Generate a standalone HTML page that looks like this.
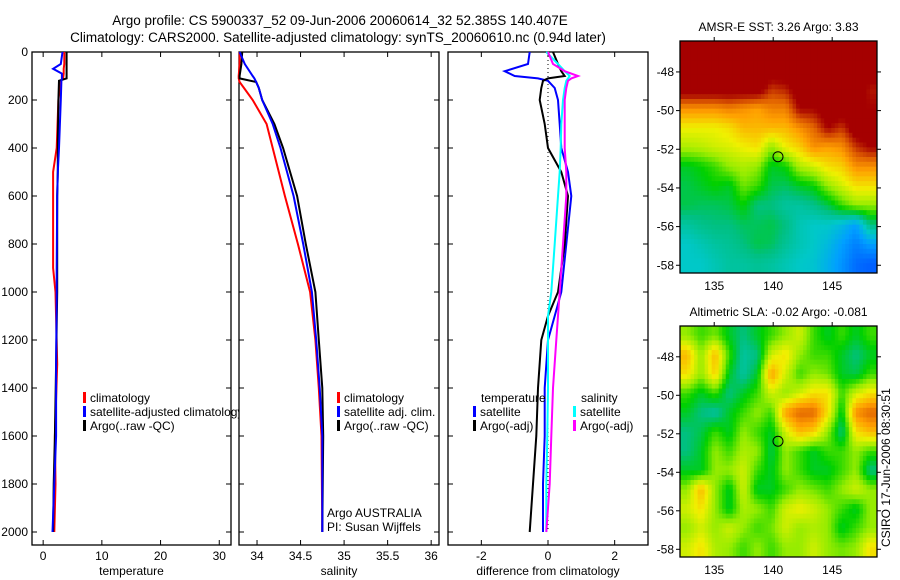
<!DOCTYPE html>
<html><head><meta charset="utf-8"><style>
body{margin:0;background:#fff}
svg{display:block;font-family:"Liberation Sans",sans-serif}
</style></head><body>
<svg id="s" width="900" height="580" viewBox="0 0 900 580" xmlns="http://www.w3.org/2000/svg">
<defs>
<clipPath id="c1"><rect x="680" y="41" width="197" height="232"/></clipPath>
<clipPath id="c2"><rect x="680" y="326" width="197" height="231"/></clipPath>
</defs>
<text x="340" y="25" text-anchor="middle" font-size="13.5">Argo profile: CS 5900337_52 09-Jun-2006 20060614_32 52.385S 140.407E</text>
<text x="338" y="42" text-anchor="middle" font-size="13.5">Climatology: CARS2000. Satellite-adjusted climatology: synTS_20060610.nc (0.94d later)</text>
<g id="g"></g>
</svg>
<script>
const tDepth=[0,50,70,90,110,120,200,400,500,600,900,1000,1300,1600,1800,2000];
const tClim=[3.6,3.6,3.5,3.5,3.4,3.0,2.6,2.3,1.7,1.7,1.7,2.1,2.4,2.0,2.1,1.9];
const tSat=[3.3,3.0,1.7,3.2,3.2,3.1,3.0,2.7,2.5,2.4,2.3,2.3,2.2,2.2,1.9,1.6];
const tArgo=[4.0,4.0,4.0,4.0,4.0,2.7,2.6,2.5,2.5,2.4,2.4,2.4,2.2,2.0,1.8,1.7];
const sDepth=[0,50,100,110,125,150,200,300,400,600,800,1000,1200,1400,1600,2000];
const sClim=[33.8,33.8,33.79,33.79,33.8,33.85,33.95,34.11,34.18,34.32,34.47,34.61,34.67,34.71,34.74,34.75];
const sSat=[33.8,33.86,33.95,33.97,33.99,34.02,34.06,34.18,34.27,34.42,34.53,34.63,34.68,34.72,34.75,34.75];
const sArgo=[33.83,33.82,33.8,33.8,33.99,34.02,34.06,34.2,34.3,34.46,34.56,34.67,34.71,34.75,34.76,34.75];
const dDepth=[0,50,80,100,110,120,150,200,300,400,500,600,800,1000,1100,1200,1400,1600,1800,2000];
const dTSat=[-0.55,-0.6,-1.3,-1.0,-0.3,0.0,0.2,0.3,0.35,0.4,0.6,0.7,0.55,0.4,0.2,0.0,-0.1,-0.1,-0.15,-0.15];
const dTArgo=[0.15,0.3,0.4,0.5,0.0,-0.15,-0.2,-0.25,-0.1,0.0,0.4,0.6,0.5,0.3,0.0,-0.2,-0.3,-0.35,-0.45,-0.55];
const dSSat=[-0.05,0.3,0.5,0.65,0.6,0.55,0.5,0.45,0.4,0.38,0.35,0.3,0.2,0.1,0.0,0.0,0.0,-0.02,-0.05,-0.05];
const dSArgo=[0.0,0.15,0.5,0.9,0.7,0.6,0.55,0.5,0.5,0.5,0.55,0.55,0.45,0.35,0.3,0.25,0.15,0.1,0.05,-0.05];
const depthTicks=[0,200,400,600,800,1000,1200,1400,1600,1800,2000];
const tTicks=[0,10,20,30];
const sTicks=[34,34.5,35,35.5,36];
const sTickLabels=["34","34.5","35","35.5","36"];
const dTicks=[-2,0,2];
const lonTicks=[135,140,145];
const latTicks=[-48,-50,-52,-54,-56,-58];
const sstGrid=[
[1,1,1,1,1,1,1,1,1,1,1,1,1,1],
[1,1,1,1,1,1,1,1,1,1,1,1,1,1],
[1,1,1,1,1,1,0.9,0.92,1,1,1,1,1,0.93],
[0.8,0.8,0.8,0.82,0.8,0.78,0.82,0.82,0.95,0.95,1,1,0.95,0.95],
[0.68,0.68,0.68,0.7,0.75,0.75,0.75,0.75,0.8,0.85,0.95,0.9,1,1],
[0.62,0.63,0.65,0.66,0.68,0.7,0.6,0.68,0.72,0.8,0.78,0.8,0.9,0.95],
[0.5,0.52,0.55,0.6,0.62,0.6,0.5,0.52,0.62,0.65,0.7,0.72,0.8,0.8],
[0.48,0.5,0.52,0.5,0.58,0.55,0.48,0.47,0.5,0.52,0.6,0.65,0.7,0.7],
[0.48,0.47,0.47,0.48,0.52,0.45,0.45,0.42,0.42,0.44,0.48,0.55,0.6,0.6],
[0.42,0.44,0.45,0.45,0.47,0.47,0.48,0.45,0.4,0.38,0.38,0.35,0.3,0.45],
[0.38,0.4,0.42,0.43,0.45,0.48,0.47,0.43,0.4,0.38,0.35,0.3,0.25,0.3],
[0.38,0.38,0.4,0.42,0.42,0.43,0.42,0.4,0.38,0.37,0.33,0.28,0.22,0.2]];
const slaGrid=[
[0.6,0.55,0.58,0.5,0.45,0.5,0.55,0.6,0.65,0.55,0.5,0.55,0.5,0.55],
[0.75,0.6,0.75,0.55,0.42,0.45,0.65,0.7,0.6,0.55,0.55,0.5,0.45,0.5],
[0.7,0.6,0.72,0.5,0.42,0.5,0.78,0.65,0.55,0.6,0.58,0.5,0.48,0.55],
[0.55,0.5,0.55,0.45,0.5,0.55,0.65,0.6,0.65,0.7,0.7,0.55,0.65,0.7],
[0.5,0.45,0.42,0.5,0.55,0.6,0.55,0.78,0.85,0.85,0.7,0.5,0.8,0.85],
[0.45,0.48,0.55,0.5,0.6,0.55,0.5,0.65,0.75,0.72,0.6,0.45,0.7,0.75],
[0.45,0.5,0.6,0.55,0.62,0.6,0.48,0.6,0.55,0.5,0.55,0.55,0.6,0.55],
[0.5,0.5,0.6,0.6,0.65,0.55,0.5,0.6,0.55,0.5,0.5,0.55,0.6,0.45],
[0.6,0.75,0.6,0.5,0.65,0.5,0.5,0.55,0.6,0.58,0.55,0.6,0.65,0.6],
[0.65,0.7,0.6,0.5,0.62,0.6,0.55,0.65,0.68,0.65,0.6,0.55,0.5,0.6],
[0.6,0.65,0.6,0.65,0.6,0.55,0.58,0.65,0.6,0.62,0.6,0.5,0.55,0.6],
[0.65,0.7,0.62,0.6,0.55,0.6,0.55,0.6,0.6,0.65,0.6,0.58,0.6,0.7]];
const argoLon=140.407, argoLat=-52.385;

const NS="http://www.w3.org/2000/svg";
const G=document.getElementById('g');
function el(t,a,p){const e=document.createElementNS(NS,t);for(const k in a)e.setAttribute(k,a[k]);(p||G).appendChild(e);return e;}
function tx(x,y,s,o){const e=el('text',Object.assign({x:x,y:y,'font-size':12},o||{}));e.textContent=s;return e;}

const yTop=52,yBot=545;
const yD=d=>52+d*0.24;
const panels=[
 {x0:32,x1:231,v0:-1.9,v1:32,name:'temperature-panel',xlab:'temperature'},
 {x0:239,x1:439,v0:33.793,v1:36.09,name:'salinity-panel',xlab:'salinity'},
 {x0:448,x1:648,v0:-3,v1:3,name:'difference-panel',xlab:'difference from climatology'}];
panels.forEach(p=>p.fx=v=>p.x0+(v-p.v0)/(p.v1-p.v0)*(p.x1-p.x0));
const [P1,P2,P3]=panels;

function line(p,vals,depths,col,nm){
 const pts=vals.map((v,i)=>p.fx(v).toFixed(1)+','+yD(depths[i]).toFixed(1)).join(' ');
 const e=el('polyline',{points:pts,fill:'none',stroke:col,'stroke-width':2});
 
 
}
function frame(p,ticks,labels){
 const r=el('rect',{x:p.x0,y:yTop,width:p.x1-p.x0,height:yBot-yTop,fill:'#fff',stroke:'#000','stroke-width':1.3});
 
 
 ticks.forEach((t,i)=>{const x=p.fx(t);
  el('line',{x1:x,x2:x,y1:yTop,y2:yTop+5,stroke:'#000'});
  el('line',{x1:x,x2:x,y1:yBot,y2:yBot-5,stroke:'#000'});
  const l=tx(x,yBot+15,labels[i],{'text-anchor':'middle'});
  
  });
 depthTicks.forEach(d=>{const y=yD(d);
  el('line',{x1:p.x0,x2:p.x0+5,y1:y,y2:y,stroke:'#000'});
  el('line',{x1:p.x1,x2:p.x1-5,y1:y,y2:y,stroke:'#000'});});
 const xl=tx((p.x0+p.x1)/2,yBot+30,p.xlab,{'text-anchor':'middle'});
 
 
}
function legend(x,y,items){
 items.forEach((it,i)=>{const yy=y+i*14;
  el('rect',{x:x,y:yy-10,width:3,height:11,fill:it[0]});
  const t=tx(x+7,yy,it[1]);
  
  });
}
frame(P1,tTicks,tTicks.map(String));
depthTicks.forEach(d=>{const t=tx(28,yD(d)+4,String(d),{'text-anchor':'end'});
 
 });
line(P1,tClim,tDepth,'#f00','temp-climatology-line');
line(P1,tArgo,tDepth,'#000','temp-argo-line');
line(P1,tSat,tDepth,'#00f','temp-satellite-line');
legend(83,402,[['#f00','climatology'],['#00f','satellite-adjusted climatology'],['#000','Argo(..raw -QC)']]);
frame(P2,sTicks,sTickLabels);
line(P2,sClim,sDepth,'#f00','sal-climatology-line');
line(P2,sArgo,sDepth,'#000','sal-argo-line');
line(P2,sSat,sDepth,'#00f','sal-satellite-line');
legend(337,402,[['#f00','climatology'],['#00f','satellite adj. clim.'],['#000','Argo(..raw -QC)']]);
tx(327,517,'Argo AUSTRALIA',{});
tx(327,531,'PI: Susan Wijffels',{});
frame(P3,dTicks,dTicks.map(String));
el('line',{x1:P3.fx(0),x2:P3.fx(0),y1:yTop,y2:yD(2000),stroke:'#000','stroke-dasharray':'1,3'});
line(P3,dTSat,dDepth,'#00f','diff-temp-satellite-line');
line(P3,dTArgo,dDepth,'#000','diff-temp-argo-line');
line(P3,dSSat,dDepth,'#0ff','diff-sal-satellite-line');
line(P3,dSArgo,dDepth,'#f0f','diff-sal-argo-line');
tx(481,402,'temperature',{});
tx(581,402,'salinity',{});
legend(473,416,[['#00f','satellite'],['#000','Argo(-adj)']]);
legend(573,416,[['#0ff','satellite'],['#f0f','Argo(-adj)']]);

const stops=[[0,[0,80,255]],[0.2,[0,96,255]],[0.3,[0,160,255]],[0.38,[0,200,200]],[0.45,[0,192,128]],[0.52,[0,208,0]],[0.6,[150,236,0]],[0.68,[240,240,0]],[0.78,[255,160,0]],[0.86,[224,96,0]],[0.95,[165,0,0]],[1,[165,0,0]]];
function cmap(v){for(let i=1;i<stops.length;i++){if(v<=stops[i][0]){const a=stops[i-1],b=stops[i],t=(v-a[0])/(b[0]-a[0]);
 return 'rgb('+a[1].map((c,k)=>Math.round(c+(b[1][k]-c)*t)).join(',')+')';}}return 'rgb(165,0,0)';}
function sample(grid,r,c){
 const nr=grid.length,nc=grid[0].length;
 r=Math.min(nr-1,Math.max(0,r));c=Math.min(nc-1,Math.max(0,c));
 const r0=Math.floor(r),c0=Math.floor(c),r1=Math.min(nr-1,r0+1),c1=Math.min(nc-1,c0+1),fr=r-r0,fc=c-c0;
 return grid[r0][c0]*(1-fr)*(1-fc)+grid[r0][c1]*(1-fr)*fc+grid[r1][c0]*fr*(1-fc)+grid[r1][c1]*fr*fc;
}
function map(grid,y0,y1,clip,title,nm){
 const x0=680,x1=877,lon0=132.1,lon1=148.8,lat0=-46.4,lat1=-58.4;
 const fx=l=>x0+(l-lon0)/(lon1-lon0)*(x1-x0), fy=l=>y0+(l-lat0)/(lat1-lat0)*(y1-y0);
 const g=el('g',{'clip-path':'url(#'+clip+')'});
 const nr=grid.length,nc=grid[0].length,S=4,cw=(x1-x0)/nc/S,ch=(y1-y0)/nr/S;
 for(let r=0;r<nr*S;r++)for(let c=0;c<nc*S;c++){
  const v=sample(grid,(r+0.5)/S-0.5,(c+0.5)/S-0.5);
  const e=el('rect',{x:(x0+c*cw).toFixed(2),y:(y0+r*ch).toFixed(2),width:(cw+0.6).toFixed(2),height:(ch+0.6).toFixed(2),fill:cmap(v)},g);
  
  }
 const fr=el('rect',{x:x0,y:y0,width:x1-x0,height:y1-y0,fill:'none',stroke:'#000','stroke-width':1.3});
 
 
 lonTicks.forEach(l=>{const x=fx(l);el('line',{x1:x,x2:x,y1:y0,y2:y0-4,stroke:'#000'});
  tx(x,y1+17,String(l),{'text-anchor':'middle'});});
 latTicks.forEach(l=>{const y=fy(l);el('line',{x1:x0,x2:x0-4,y1:y,y2:y,stroke:'#000'});el('line',{x1:x1,x2:x1+4,y1:y,y2:y,stroke:'#000'});
  tx(x0-6,y+4,String(l),{'text-anchor':'end'});});
 const ci=el('circle',{cx:fx(argoLon),cy:fy(argoLat),r:5,fill:'none',stroke:'#000'});
 
 
 const t=tx((x0+x1)/2,y0-10,title,{'text-anchor':'middle'});
 
 
}
map(sstGrid,41,273,'c1','AMSR-E SST: 3.26 Argo: 3.83','sst-map');
map(slaGrid,326,557,'c2','Altimetric SLA: -0.02 Argo: -0.081','sla-map');
tx(0,0,'CSIRO 17-Jun-2006 08:30:51',{transform:'translate(890,547) rotate(-90)',});
</script>
</body></html>
